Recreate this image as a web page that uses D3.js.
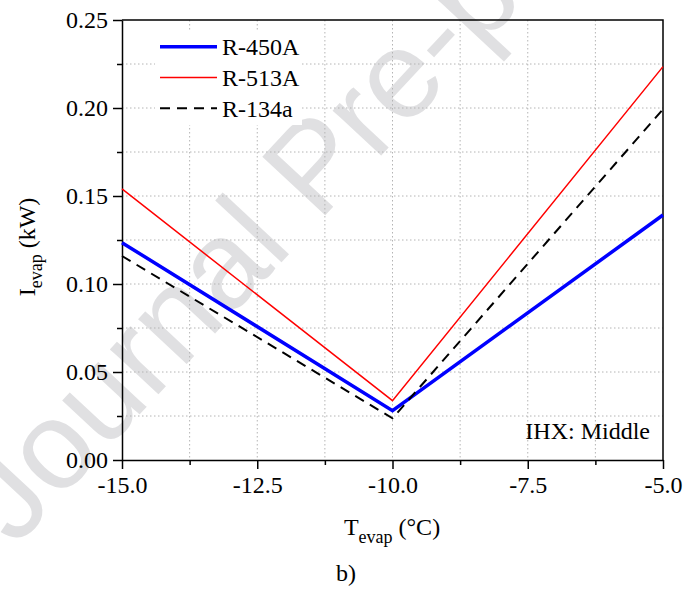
<!DOCTYPE html>
<html>
<head>
<meta charset="utf-8">
<script src="https://cdn.jsdelivr.net/npm/d3@7"></script>
<style>
  html, body { margin: 0; padding: 0; background: #fff; }
  svg { display: block; }
  text { font-family: "Liberation Serif", "Times New Roman", serif; fill: #000; }
</style>
</head>
<body>
<script>
// Evaporator irreversibility vs evaporating temperature (IHX: Middle)
const tEvap = [-15, -10, -5];
const r450A = [0.1235, 0.028, 0.1392];
const r513A = [0.154, 0.0337, 0.2235];
const r134a = [0.1159, 0.0237, 0.1993];

const seriesNames = ["R-450A", "R-513A", "R-134a"];
const seriesValues = [r450A, r513A, r134a];

const xMajor = [-15, -12.5, -10, -7.5, -5];
const xMinor = [-13.75, -11.25, -8.75, -6.25];
const yMajor = [0, 0.05, 0.10, 0.15, 0.20, 0.25];
const yMinor = [0.025, 0.075, 0.125, 0.175, 0.225];

const W = 687, H = 591;
const plotL = 122, plotR = 663, plotT = 20, plotB = 460;
const FS = 24;

const styles = [
  { color: "#0000ff", width: 3.5, dash: null },
  { color: "#ff0000", width: 1.5, dash: null },
  { color: "#000000", width: 2, dash: "10,7" }
];

const svg = d3.select("body").append("svg")
  .attr("width", W).attr("height", H);

svg.append("rect").attr("width", W).attr("height", H).attr("fill", "#fff");

// Watermark
svg.append("text")
  .attr("transform", "translate(15,548) rotate(-47)")
  .style("font-family", "'Liberation Sans', Arial, sans-serif")
  .style("font-size", "125px")
  .style("fill", "#e0e0e2")
  .text("Journal Pre-proof");

const x = d3.scaleLinear().domain([-15, -5]).range([plotL, plotR]);
const y = d3.scaleLinear().domain([0, 0.25]).range([plotB, plotT]);

// Dotted grid at every major and minor step
const grid = svg.append("g").attr("stroke", "#b4b4b4").attr("stroke-width", 1)
  .attr("stroke-dasharray", "1.5,2.5");
const gx = xMajor.concat(xMinor).filter(v => v > -15 && v < -5);
const gy = yMajor.concat(yMinor).filter(v => v > 0 && v < 0.25);
grid.selectAll("line.gx").data(gx).join("line").attr("class", "gx")
  .attr("x1", d => x(d)).attr("x2", d => x(d))
  .attr("y1", plotT).attr("y2", plotB);
grid.selectAll("line.gy").data(gy).join("line").attr("class", "gy")
  .attr("y1", d => y(d)).attr("y2", d => y(d))
  .attr("x1", plotL).attr("x2", plotR);

// Frame (top and right)
svg.append("path")
  .attr("d", `M${plotL},${plotT}H${plotR}V${plotB}`)
  .attr("fill", "none").attr("stroke", "#000").attr("stroke-width", 1.5);

// Axes
const fmtX = v => v.toFixed(1);
const fmtY = v => v.toFixed(2);

const xAxis = svg.append("g").attr("transform", `translate(0,${plotB})`)
  .call(d3.axisBottom(x).tickValues(xMajor).tickSize(9).tickSizeOuter(0).tickFormat(fmtX));
svg.append("g").attr("transform", `translate(0,${plotB})`)
  .call(d3.axisBottom(x).tickValues(xMinor).tickSize(5).tickSizeOuter(0).tickFormat(""))
  .call(g => g.select(".domain").remove());

const yAxis = svg.append("g").attr("transform", `translate(${plotL},0)`)
  .call(d3.axisLeft(y).tickValues(yMajor).tickSize(9).tickSizeOuter(0).tickFormat(fmtY));
svg.append("g").attr("transform", `translate(${plotL},0)`)
  .call(d3.axisLeft(y).tickValues(yMinor).tickSize(5).tickSizeOuter(0).tickFormat(""))
  .call(g => g.select(".domain").remove());

svg.selectAll(".domain, .tick line").attr("stroke", "#000").attr("stroke-width", 1.5);
svg.selectAll(".tick text")
  .style("font-family", "'Liberation Serif', 'Times New Roman', serif")
  .style("font-size", FS + "px");
xAxis.selectAll(".tick text").attr("y", 33).attr("dy", null);
yAxis.selectAll(".tick text").attr("x", -14).attr("dy", "7.5");

// Data lines
const line = d3.line().x(d => x(d[0])).y(d => y(d[1]));
seriesValues.forEach((vals, i) => {
  const pts = tEvap.map((t, k) => [t, vals[k]]);
  svg.append("path")
    .datum(pts)
    .attr("d", line)
    .attr("fill", "none")
    .attr("stroke", styles[i].color)
    .attr("stroke-width", styles[i].width)
    .attr("stroke-dasharray", styles[i].dash)
    .attr("stroke-linejoin", "miter");
});

// Legend
const leg = svg.append("g");
leg.append("rect").attr("x", 155).attr("y", 31).attr("width", 147).attr("height", 94)
  .attr("fill", "#fff");
seriesNames.forEach((name, i) => {
  const ly = 46.7 + i * 30.8;
  leg.append("line")
    .attr("x1", 160).attr("x2", 217).attr("y1", ly).attr("y2", ly)
    .attr("stroke", styles[i].color)
    .attr("stroke-width", styles[i].width)
    .attr("stroke-dasharray", styles[i].dash);
  leg.append("text").attr("x", 222).attr("y", ly + 8.5)
    .style("font-size", FS + "px").text(name);
});

// Annotation
svg.append("text").attr("x", 650).attr("y", 439).attr("text-anchor", "end")
  .style("font-size", FS + "px").text("IHX: Middle");

// Axis titles
const xt = svg.append("text").attr("x", 392).attr("y", 535).attr("text-anchor", "middle")
  .style("font-size", FS + "px");
xt.append("tspan").text("T");
xt.append("tspan").attr("dy", 8).style("font-size", "18px").text("evap");
xt.append("tspan").attr("dy", -8).text("\u00a0(°C)");

const yt = svg.append("text")
  .attr("transform", "translate(35,247) rotate(-90)")
  .attr("text-anchor", "middle")
  .style("font-size", FS + "px");
yt.append("tspan").text("I");
yt.append("tspan").attr("dy", 7).style("font-size", "18px").text("evap");
yt.append("tspan").attr("dy", -7).text("\u00a0(kW)");

// Panel label
svg.append("text").attr("x", 346).attr("y", 581).attr("text-anchor", "middle")
  .style("font-size", FS + "px").text("b)");
</script>
</body>
</html>
